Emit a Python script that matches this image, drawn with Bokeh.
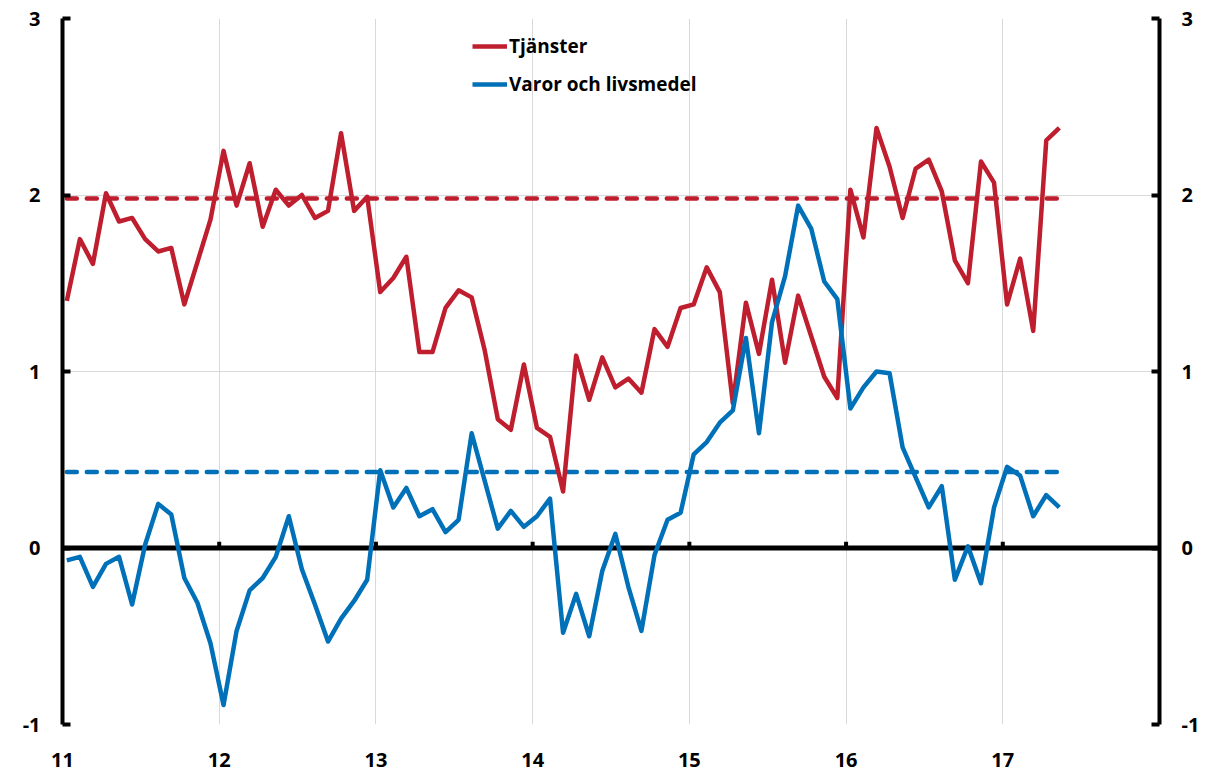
from bokeh.plotting import figure
from bokeh.models import Range1d, LinearAxis, FixedTicker, Legend, LegendItem, Span
from bokeh.embed import file_html
from bokeh.resources import INLINE

# ---- data (monthly, Jan 2011 - May 2017) ----
START_YEAR = 11
MONTH_OFFSET = 0.33  # points sit about a third into each month

TJANSTER = [1.40, 1.75, 1.61, 2.01, 1.85, 1.87, 1.75, 1.68, 1.70, 1.38, 1.62, 1.86,
            2.25, 1.94, 2.18, 1.82, 2.03, 1.94, 2.00, 1.87, 1.91, 2.35, 1.91, 1.99,
            1.45, 1.53, 1.65, 1.11, 1.11, 1.36, 1.46, 1.42, 1.12, 0.73, 0.67, 1.04,
            0.68, 0.63, 0.32, 1.09, 0.84, 1.08, 0.91, 0.96, 0.88, 1.24, 1.14, 1.36,
            1.38, 1.59, 1.45, 0.82, 1.39, 1.10, 1.52, 1.05, 1.43, 1.20, 0.97, 0.85,
            2.03, 1.76, 2.38, 2.16, 1.87, 2.15, 2.20, 2.02, 1.63, 1.50, 2.19, 2.07,
            1.38, 1.64, 1.23, 2.31, 2.38]

VAROR = [-0.07, -0.05, -0.22, -0.09, -0.05, -0.32, 0.02, 0.25, 0.19, -0.17, -0.31, -0.54,
         -0.89, -0.47, -0.24, -0.17, -0.05, 0.18, -0.12, -0.32, -0.53, -0.40, -0.30, -0.18,
         0.44, 0.23, 0.34, 0.18, 0.22, 0.09, 0.16, 0.65, 0.38, 0.11, 0.21, 0.12,
         0.18, 0.28, -0.48, -0.26, -0.50, -0.13, 0.08, -0.22, -0.47, -0.04, 0.16, 0.20,
         0.53, 0.60, 0.71, 0.78, 1.19, 0.65, 1.28, 1.54, 1.94, 1.81, 1.51, 1.41,
         0.79, 0.91, 1.00, 0.99, 0.57, 0.40, 0.23, 0.35, -0.18, 0.01, -0.20, 0.23,
         0.46, 0.41, 0.18, 0.30, 0.23]

TJANSTER_AVG = 1.98
VAROR_AVG = 0.43

X_TICKS = [11, 12, 13, 14, 15, 16, 17]
X_GRID = [12, 13, 14, 15, 16, 17, 18]
Y_TICKS = [-1, 0, 1, 2, 3]
Y_LABELS = {-1: "-1", 0: "0", 1: "1", 2: "2", 3: "3"}

LEGEND_LABELS = ["Tjänster", "Varor och livsmedel"]

RED = "#BE1E2D"
BLUE = "#0070B8"
FONT = "Open Sans"

x = [START_YEAR + (i + MONTH_OFFSET) / 12 for i in range(len(TJANSTER))]

p = figure(width=1205, height=771, output_backend="svg", toolbar_location=None,
           x_range=Range1d(11, 18), y_range=Range1d(-1, 3),
           min_border_left=62, min_border_right=46, min_border_top=18, min_border_bottom=47)
p.outline_line_color = None
p.background_fill_color = "white"

# grids
p.xgrid.ticker = FixedTicker(ticks=X_GRID)
p.ygrid.ticker = FixedTicker(ticks=[-1, 1, 2, 3])
p.grid.grid_line_color = "#D9D9D9"
p.grid.grid_line_width = 1

def style_y(ax):
    ax.ticker = FixedTicker(ticks=Y_TICKS)
    ax.major_label_overrides = Y_LABELS
    ax.axis_line_width = 4
    ax.axis_line_color = "black"
    ax.major_tick_in = 8
    ax.major_tick_out = 0
    ax.major_tick_line_width = 4
    ax.minor_tick_line_color = None
    ax.major_label_standoff = 22
    ax.major_label_text_font = FONT
    ax.major_label_text_font_style = "bold"
    ax.major_label_text_font_size = "20px"
    ax.major_label_text_color = "black"

style_y(p.yaxis[0])
right = LinearAxis()
style_y(right)
p.add_layout(right, "right")

xa = p.xaxis[0]
xa.ticker = FixedTicker(ticks=X_TICKS)
xa.axis_line_color = None
xa.major_tick_line_color = None
xa.minor_tick_line_color = None
xa.major_label_standoff = 22
xa.major_label_text_font = FONT
xa.major_label_text_font_style = "bold"
xa.major_label_text_font_size = "20px"
xa.major_label_text_color = "black"

# zero line with small ticks
zero = Span(location=0, dimension="width", line_color="black", line_width=5, level="underlay")
p.add_layout(zero)
p.segment(x0=X_GRID[:-1], y0=0, x1=X_GRID[:-1], y1=0.035, line_color="black", line_width=4)

# averages (dashed)
p.line([x[0], x[-1]], [TJANSTER_AVG, TJANSTER_AVG], line_color=RED, line_width=4.5,
       line_dash="10 10", line_cap="round")
p.line([x[0], x[-1]], [VAROR_AVG, VAROR_AVG], line_color=BLUE, line_width=4.5,
       line_dash="10 10", line_cap="round")

r1 = p.line(x, TJANSTER, line_color=RED, line_width=4.5, line_join="round")
r2 = p.line(x, VAROR, line_color=BLUE, line_width=4.5, line_join="round")

legend = Legend(items=[LegendItem(label=LEGEND_LABELS[0], renderers=[r1]),
                       LegendItem(label=LEGEND_LABELS[1], renderers=[r2])],
                location=(410, 627), orientation="vertical",
                background_fill_alpha=0, border_line_color=None,
                label_text_font=FONT, label_text_font_style="bold",
                label_text_font_size="19px", label_text_color="black",
                glyph_width=35, glyph_height=20, spacing=12, padding=0, margin=0,
                label_standoff=2)
p.add_layout(legend)

open("out.html", "w").write(file_html(p, INLINE))
